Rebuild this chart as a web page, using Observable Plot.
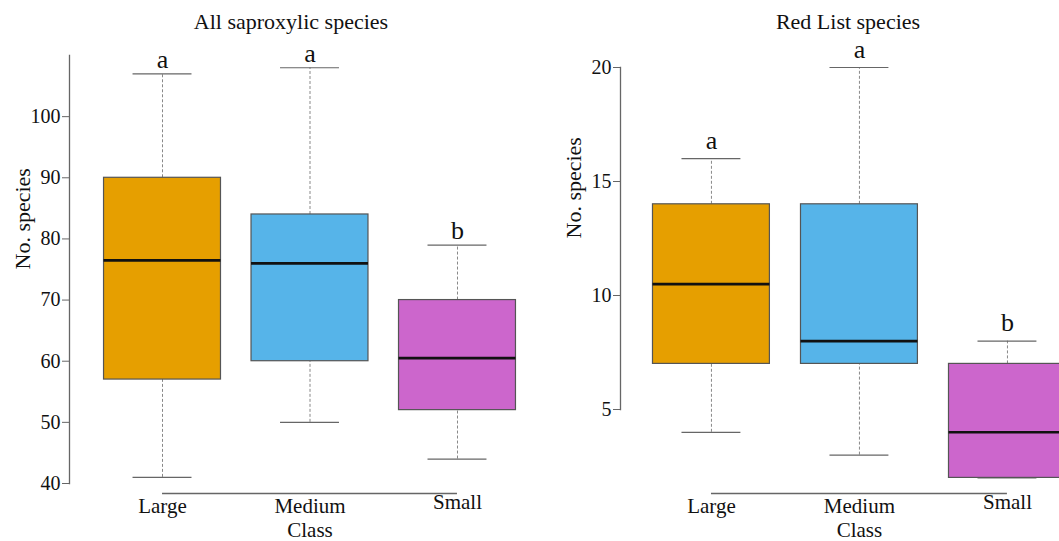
<!DOCTYPE html>
<html><head><meta charset="utf-8">
<script src="https://cdn.jsdelivr.net/npm/d3@7"></script>
<script src="https://cdn.jsdelivr.net/npm/@observablehq/plot@0.6"></script>
<style>
body{margin:0;background:#fff;}
#wrap{position:relative;width:1059px;height:541px;overflow:hidden;font-family:"Liberation Serif","Times New Roman",serif;background:#fff;}
#wrap svg, #wrap svg text{font-family:"Liberation Serif","Times New Roman",serif !important;}
.panel{position:absolute;top:0;}
.title{position:absolute;top:11px;font-size:22px;line-height:22px;text-align:center;color:#111;white-space:nowrap;}
</style></head><body><div id="wrap"></div>
<script>
// Categories, colours
const classes = ["Large", "Medium", "Small"];
const classColors = ["#E69F00", "#56B4E9", "#CC66CC"];
const xAxisTitle = "Class";
const yAxisTitle = "No. species";

// All saproxylic species
const allTitle = "All saproxylic species";
const allMin = [41, 50, 44];
const allQ1 = [57, 60, 52];
const allMedian = [76.5, 76, 60.5];
const allQ3 = [90, 84, 70];
const allMax = [107, 108, 79];
const allLetters = ["a", "a", "b"];
const allTicks = [40, 50, 60, 70, 80, 90, 100];
const allDomain = [40, 110];

// Red List species
const redTitle = "Red List species";
const redMin = [4, 3, 2];
const redQ1 = [7, 7, 2];
const redMedian = [10.5, 8, 4];
const redQ3 = [14, 14, 7];
const redMax = [16, 20, 8];
const redLetters = ["a", "a", "b"];
const redTicks = [5, 10, 15, 20];
const redDomain = [5, 20];

function table(mn, q1, med, q3, mx, letters) {
  return classes.map((c, i) => ({cls: c, min: mn[i], q1: q1[i], median: med[i], q3: q3[i], max: mx[i], letter: letters[i]}));
}

function panel(cfg) {
  const H = 541;
  const bw = 117;
  const data = cfg.data;
  const mb = cfg.marginBottom;
  const svg = Plot.plot({
    width: cfg.width, height: H,
    marginLeft: cfg.marginLeft, marginRight: 0, marginTop: cfg.marginTop, marginBottom: mb,
    style: {fontFamily: "Liberation Serif, Times New Roman, serif", fontSize: "20px", background: "transparent", color: "#111"},
    x: {type: "band", domain: classes, range: cfg.xRange, padding: cfg.padding, round: false, axis: null},
    y: {domain: cfg.domain, axis: null},
    color: {domain: classes, range: classColors},
    marks: [
      Plot.frame({anchor: "left", stroke: "#666", strokeWidth: 1.3}),
      Plot.axisY(cfg.ticks, {tickSize: 7, tickPadding: 2, fontSize: 20, stroke: "#666", fill: "#111", label: null}),
      Plot.ruleY([{a: "Large", b: "Small"}], {x1: "a", x2: "b", y: () => cfg.domain[0], dy: mb - 48, insetLeft: bw / 2, insetRight: bw / 2, stroke: "#666", strokeWidth: 1.3}),
      Plot.axisX(["Large", "Medium"], {tickSize: 0, tickPadding: mb - 43.4, fontSize: 21, fill: "#111", label: null}),
      Plot.axisX(["Small"], {tickSize: 0, tickPadding: mb - 47.4, fontSize: 21, fill: "#111", label: null}),
      Plot.text(["Medium"], {x: d => d, text: () => xAxisTitle, frameAnchor: "bottom", lineAnchor: "top", dy: mb - 19.4, fontSize: 21, fill: "#111"}),
      Plot.text([yAxisTitle], {text: d => d, frameAnchor: "left", rotate: -90, dx: -47, fontSize: 22, fill: "#111"}),
      Plot.ruleX(data, {x: "cls", y1: "q3", y2: "max", stroke: "#888", strokeWidth: 1, strokeDasharray: "3,2"}),
      Plot.ruleX(data, {x: "cls", y1: "min", y2: "q1", stroke: "#888", strokeWidth: 1, strokeDasharray: "3,2"}),
      Plot.tickY(data, {x: "cls", y: "max", inset: 29, stroke: "#666", strokeWidth: 1.2}),
      Plot.tickY(data, {x: "cls", y: "min", inset: 29, stroke: "#666", strokeWidth: 1.2}),
      Plot.barY(data, {x: "cls", y1: "q1", y2: "q3", fill: "cls", stroke: "#555", strokeWidth: 1.2}),
      Plot.tickY(data, {x: "cls", y: "median", stroke: "#111", strokeWidth: 2.6}),
      Plot.text(data, {x: "cls", y: "max", text: "letter", lineAnchor: "bottom", dy: cfg.letterDy, fontSize: 26, fill: "#111"})
    ]
  });
  const div = document.createElement("div");
  div.className = "panel";
  div.style.left = cfg.left + "px";
  div.style.width = cfg.width + "px";
  div.appendChild(svg);
  return div;
}

const wrap = document.getElementById("wrap");
wrap.appendChild(panel({
  data: table(allMin, allQ1, allMedian, allQ3, allMax, allLetters),
  left: 0, width: 530, marginLeft: 69, marginTop: 55, marginBottom: 58,
  xRange: [73, 546], padding: 0.207, domain: allDomain, ticks: allTicks, letterDy: -6
}));
wrap.appendChild(panel({
  data: table(redMin, redQ1, redMedian, redQ3, redMax, redLetters),
  left: 530, width: 529, marginLeft: 90, marginTop: 67, marginBottom: 132,
  xRange: [91.4, 566.5], padding: 0.21, domain: redDomain, ticks: redTicks, letterDy: -10
}));

function addTitle(text, center, w) {
  const t = document.createElement("div");
  t.className = "title";
  t.textContent = text;
  t.style.left = (center - w / 2) + "px";
  t.style.width = w + "px";
  wrap.appendChild(t);
}
addTitle(allTitle, 291, 400);
addTitle(redTitle, 848, 300);
</script>
</body></html>
